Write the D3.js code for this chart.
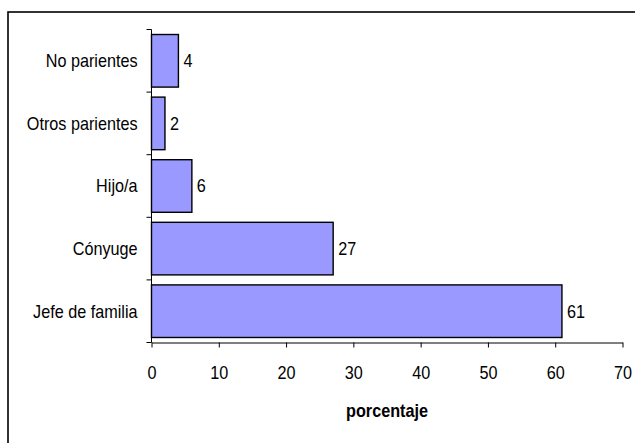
<!DOCTYPE html>
<html>
<head>
<meta charset="utf-8">
<script src="https://cdn.jsdelivr.net/npm/d3@7"></script>
<style>
  html, body { margin: 0; padding: 0; background: #fff; }
  svg { display: block; font-family: "Liberation Sans", Arial, sans-serif; }
</style>
</head>
<body>
<svg id="chart" width="635" height="443"></svg>
<script>
// Household relationship to head of family, in percent
const categories = ["Jefe de familia", "Cónyuge", "Hijo/a", "Otros parientes", "No parientes"];
const values = [61, 27, 6, 2, 4];
const xTicks = [0, 10, 20, 30, 40, 50, 60, 70];
const xTitle = "porcentaje";

const svg = d3.select("#chart");
const plot = { left: 151.5, right: 622.5, top: 29.5, bottom: 342.5 };
const fontSize = 18;
const narrow = 0.9; // slightly condensed lettering

// Outer frame
svg.append("rect")
  .attr("x", 8).attr("y", 12)
  .attr("width", 660).attr("height", 460)
  .attr("fill", "none").attr("stroke", "#000").attr("stroke-width", 1.6);

const x = d3.scaleLinear().domain([0, 70]).range([plot.left, plot.right]);
const y = d3.scaleBand()
  .domain(categories)
  .range([plot.bottom, plot.top])
  .paddingInner(0.16)
  .paddingOuter(0.08);

// Bars
svg.append("g").selectAll("rect")
  .data(categories)
  .join("rect")
  .attr("x", x(0))
  .attr("y", d => y(d))
  .attr("width", (d, i) => x(values[i]) - x(0))
  .attr("height", y.bandwidth())
  .attr("fill", "#9999ff")
  .attr("stroke", "#000")
  .attr("stroke-width", 1.4);

// Value labels
svg.append("g").selectAll("text")
  .data(categories)
  .join("text")
  .attr("transform", (d, i) => `translate(${x(values[i]) + 5},${y(d) + y.bandwidth() / 2}) scale(${narrow},1)`)
  .attr("dy", "0.35em")
  .attr("font-size", fontSize)
  .text((d, i) => values[i]);

// Category labels
svg.append("g").selectAll("text")
  .data(categories)
  .join("text")
  .attr("transform", d => `translate(${plot.left - 14},${y(d) + y.bandwidth() / 2}) scale(${narrow},1)`)
  .attr("dy", "0.35em")
  .attr("text-anchor", "end")
  .attr("font-size", fontSize)
  .text(d => d);

// Y axis line with ticks at band boundaries
const step = y.step();
const boundaries = d3.range(categories.length + 1).map(i => plot.bottom - i * step);
svg.append("line")
  .attr("x1", plot.left).attr("x2", plot.left)
  .attr("y1", plot.top).attr("y2", plot.bottom)
  .attr("stroke", "#000").attr("stroke-width", 1);
svg.append("g").selectAll("line")
  .data(boundaries)
  .join("line")
  .attr("x1", plot.left - 5).attr("x2", plot.left)
  .attr("y1", d => d).attr("y2", d => d)
  .attr("stroke", "#000");

// X axis
const xAxis = d3.axisBottom(x).tickValues(xTicks).tickSize(5).tickPadding(14).tickSizeOuter(0);
const gx = svg.append("g")
  .attr("transform", `translate(0,${plot.bottom})`)
  .call(xAxis);
gx.select(".domain").attr("stroke", "#000");
gx.selectAll(".tick line").attr("stroke", "#000");
gx.selectAll(".tick text")
  .attr("y", null)
  .attr("dy", null)
  .attr("transform", `translate(0,36) scale(${narrow},1)`)
  .attr("font-size", fontSize)
  .attr("font-family", "Liberation Sans, Arial, sans-serif")
  .attr("fill", "#000");

// X axis title
svg.append("text")
  .attr("transform", `translate(${(plot.left + plot.right) / 2},417) scale(${narrow},1)`)
  .attr("text-anchor", "middle")
  .attr("font-size", fontSize)
  .attr("font-weight", "bold")
  .text(xTitle);
</script>
</body>
</html>
